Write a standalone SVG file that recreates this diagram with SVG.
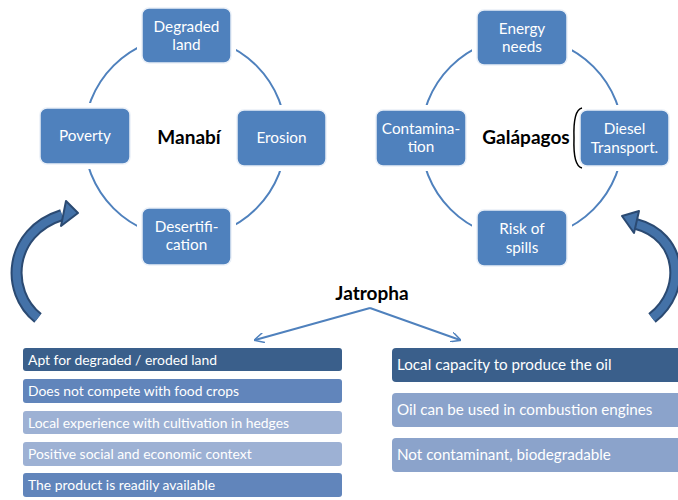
<svg xmlns="http://www.w3.org/2000/svg" width="678" height="500" viewBox="0 0 678 500">
<style>
.bx{fill:#4F81BD;stroke:#EAF0F8;stroke-width:1.5}
.gap{fill:#fff}
.bt{font-family:Lato,"Liberation Sans",sans-serif;font-size:15.3px;fill:#fff;text-anchor:middle}
.ct{font-family:Lato,"Liberation Sans",sans-serif;font-size:19px;font-weight:bold;fill:#000;text-anchor:middle}
.cyc{fill:none;stroke:#4F81BD;stroke-width:2}
.lt{font-family:Lato,"Liberation Sans",sans-serif;font-size:13.9px;fill:#fff}
.rt{font-family:Lato,"Liberation Sans",sans-serif;font-size:15.2px;fill:#fff}
.dk{fill:#3A5F8B}
.md{fill:#6185BB}
.lg{fill:#9DB1D4}
.rl{fill:#8BA3CB}
</style>
<defs>
<marker id="ah" viewBox="0 0 10 10" refX="9" refY="5" markerWidth="10" markerHeight="10" markerUnits="userSpaceOnUse" orient="auto">
<path d="M0 0 L10 5 L0 10" fill="none" stroke="#4F81BD" stroke-width="1.5"/>
</marker>
</defs>
<g id="connectors">
<circle class="cyc" cx="185" cy="137" r="101"/>
<circle class="cyc" cx="522" cy="138" r="101"/>
<path d="M370 308 L255 340" fill="none" stroke="#4F81BD" stroke-width="2" marker-end="url(#ah)"/>
<path d="M370 308 L460 340" fill="none" stroke="#4F81BD" stroke-width="2" marker-end="url(#ah)"/>
<g id="arrow-left">
<path d="M38 318 C5 292 8 232 62 215" fill="none" stroke="#2B4A72" stroke-width="12"/>
<path d="M38 318 C5 292 8 232 62 215" fill="none" stroke="#4472A8" stroke-width="8"/>
<polygon points="66,201 78,213 61,226" fill="#4472A8" stroke="#2B4A72" stroke-width="2" stroke-linejoin="round"/>
</g>
<g id="arrow-right">
<path d="M652 318 C688 290 682 236 636 224" fill="none" stroke="#2B4A72" stroke-width="12"/>
<path d="M652 318 C688 290 682 236 636 224" fill="none" stroke="#4472A8" stroke-width="8"/>
<polygon points="639,211 622,216 634,233" fill="#4472A8" stroke="#2B4A72" stroke-width="2" stroke-linejoin="round"/>
</g>
</g>
<g id="n-degraded"><rect class="gap" x="137" y="3" width="99" height="65"/><rect class="bx" x="142" y="8" width="89" height="55" rx="7"/><text class="bt" x="186.5" y="32">Degraded</text><text class="bt" x="186.5" y="50">land</text></g>
<g id="n-poverty"><rect class="gap" x="35" y="103" width="100" height="66"/><rect class="bx" x="40" y="108" width="90" height="56" rx="7"/><text class="bt" x="85" y="141">Poverty</text></g>
<g id="n-erosion"><rect class="gap" x="232" y="105" width="99" height="66"/><rect class="bx" x="237" y="110" width="89" height="56" rx="7"/><text class="bt" x="281.5" y="143">Erosion</text></g>
<g id="n-desert"><rect class="gap" x="137" y="203" width="99" height="67"/><rect class="bx" x="142" y="208" width="89" height="57" rx="7"/><text class="bt" x="186.5" y="232">Desertifi-</text><text class="bt" x="186.5" y="250">cation</text></g>
<g id="c-manabi"><text class="ct" x="189" y="144">Manabí</text></g>
<g id="n-energy"><rect class="gap" x="472" y="5" width="100" height="65"/><rect class="bx" x="477" y="10" width="90" height="55" rx="7"/><text class="bt" x="522" y="34">Energy</text><text class="bt" x="522" y="52">needs</text></g>
<g id="n-contam"><rect class="gap" x="371" y="105" width="100" height="66"/><rect class="bx" x="376" y="110" width="90" height="56" rx="7"/><text class="bt" x="421" y="134">Contamina-</text><text class="bt" x="421" y="152">tion</text></g>
<g id="n-diesel"><rect class="gap" x="575" y="105" width="99" height="66"/><path d="M582 108 Q573 110 574 138 Q573 166 582 168" fill="none" stroke="#000" stroke-width="1.5"/><rect class="bx" x="580" y="110" width="89" height="56" rx="7"/><text class="bt" x="624.5" y="134">Diesel</text><text class="bt" x="624.5" y="153">Transport.</text></g>
<g id="n-risk"><rect class="gap" x="472" y="205" width="100" height="66"/><rect class="bx" x="477" y="210" width="90" height="56" rx="7"/><text class="bt" x="522" y="234">Risk of</text><text class="bt" x="522" y="253">spills</text></g>
<g id="c-galapagos"><text class="ct" x="526" y="144">Galápagos</text></g>
<g id="c-jatropha"><text class="ct" x="372" y="300">Jatropha</text></g>
<g id="left-list">
<rect class="dk" x="23" y="348" width="319" height="23" rx="3"/><text class="lt" x="28" y="364.5">Apt for degraded / eroded land</text>
<rect class="md" x="23" y="379" width="319" height="24" rx="3"/><text class="lt" x="28" y="396">Does not compete with food crops</text>
<rect class="lg" x="23" y="411" width="319" height="23" rx="3"/><text class="lt" x="28" y="427.5">Local experience with cultivation in hedges</text>
<rect class="lg" x="23" y="442" width="319" height="24" rx="3"/><text class="lt" x="28" y="459">Positive social and economic context</text>
<rect class="md" x="23" y="473" width="319" height="24" rx="3"/><text class="lt" x="28" y="490">The product is readily available</text>
</g>
<g id="right-list">
<rect class="dk" x="392" y="348" width="300" height="34" rx="4"/><text class="rt" x="397" y="370">Local capacity to produce the oil</text>
<rect class="rl" x="392" y="393" width="300" height="34" rx="4"/><text class="rt" x="397" y="415">Oil can be used in combustion engines</text>
<rect class="rl" x="392" y="438" width="300" height="34" rx="4"/><text class="rt" x="397" y="460">Not contaminant, biodegradable</text>
</g>
</svg>
